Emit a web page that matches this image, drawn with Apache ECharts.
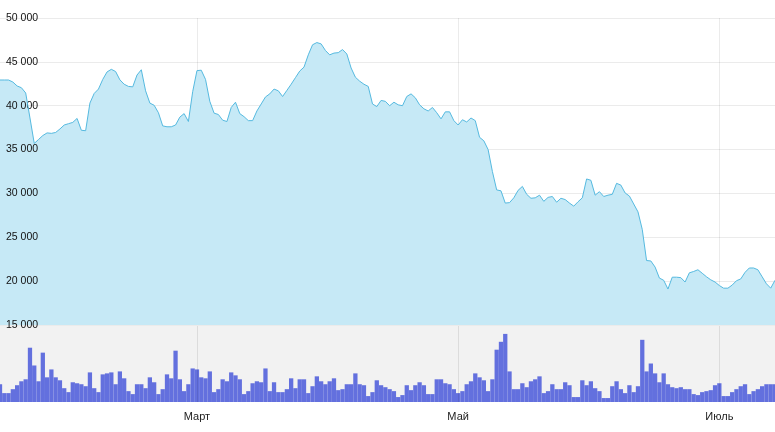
<!DOCTYPE html>
<html>
<head>
<meta charset="utf-8">
<script src="https://cdn.jsdelivr.net/npm/echarts@6/dist/echarts.min.js"></script>
<style>
html,body{margin:0;padding:0;background:#fff;}
#chart{width:775px;height:432px;}
</style>
</head>
<body>
<div id="chart"></div>
<script>
// first day of the series and number of days
const startDate = '2019-01-14';
const dayCount = 182;
// month tick positions and their labels
const tickDates = ['2019-03-01', '2019-05-01', '2019-07-01'];
const tickLabels = ['Март', 'Май', 'Июль'];
// y-axis tick values
const priceTicks = [15000, 20000, 25000, 30000, 35000, 40000, 45000, 50000];

// daily price
const price = [42930,42930,42930,42700,42250,42050,41450,38600,35700,36150,
 36600,36900,36850,36950,37350,37800,37950,38100,38550,37200,
 37150,40300,41400,41900,43000,43850,44150,43900,42950,42450,
 42200,42150,43500,44100,41700,40300,40050,39200,37700,37600,
 37600,37800,38700,39100,38200,41600,44000,44050,43000,40500,
 39150,39000,38350,38200,39800,40400,39100,38750,38300,38300,
 39400,40200,41000,41350,41900,41700,41050,41750,42450,43200,
 43950,44400,45800,46950,47200,47050,46300,45800,46000,46050,
 46400,45900,44300,43250,42800,42450,42200,40200,39900,40600,
 40500,40000,40400,40100,40000,41050,41350,40900,40100,39650,
 39400,39800,39200,38500,39300,39300,38300,37800,38400,38150,
 38600,38300,36400,36000,35000,32500,30400,30300,28900,28950,
 29500,30350,30800,29900,29450,29500,29800,29100,29550,29650,
 29000,29450,29300,28900,28550,29050,29500,31650,31500,29800,
 30200,29650,29800,29900,31150,30950,30050,29700,28800,27900,
 25900,22350,22300,21600,20350,20100,19100,20450,20450,20400,
 19900,20950,21100,21300,20900,20500,20150,19900,19500,19200,
 19200,19550,20050,20250,21000,21500,21500,21300,20500,19700,
 19200,20100];

// daily volume (relative units)
const volume = [18,9,9,13,17,21,23,55,37,21,
 50,25,33,25,22,14,10,20,19,18,
 16,30,14,10,28,29,30,18,31,24,
 11,8,18,18,14,25,20,8,13,28,
 24,52,23,11,18,34,33,25,24,31,
 10,13,23,21,30,27,23,8,11,19,
 21,20,34,11,20,10,10,13,24,14,
 23,23,9,16,26,21,18,21,24,12,
 13,18,18,29,18,17,6,10,22,17,
 15,13,11,5,7,17,12,17,20,17,
 8,8,23,23,19,18,13,9,11,18,
 21,29,25,22,11,23,53,61,69,31,
 13,13,19,15,21,23,26,9,11,18,
 13,13,20,17,5,5,22,17,21,14,
 11,4,4,16,21,13,9,17,10,16,
 63,31,39,29,20,29,18,15,14,15,
 13,13,8,7,10,11,12,17,19,6,
 6,10,13,16,18,8,11,13,16,18,
 18,18];

const dates = [];
{
  const t0 = Date.parse(startDate + 'T00:00:00Z');
  for (let i = 0; i < dayCount; i++) {
    dates.push(new Date(t0 + i * 86400000).toISOString().slice(0, 10));
  }
}
const isTick = (idx, val) => tickDates.indexOf(dates[idx]) >= 0;
const fmtNum = v => String(v).replace(/\B(?=(\d{3})+(?!\d))/g, ' ');

const chart = echarts.init(document.getElementById('chart'), null, {renderer: 'canvas'});
chart.setOption({
  animation: false,
  backgroundColor: '#ffffff',
  grid: [
    {left: 0, right: 0, top: 18, height: 307},
    {left: 0, right: 0, top: 326, height: 76, show: true, backgroundColor: '#f2f2f2', borderWidth: 0}
  ],
  xAxis: [
    {
      type: 'category', gridIndex: 0, data: dates, boundaryGap: false, z: 3,
      axisLine: {show: false}, axisTick: {show: false}, axisLabel: {show: false},
      splitLine: {show: true, interval: isTick, lineStyle: {color: 'rgba(0,0,0,0.08)', width: 1}}
    },
    {
      type: 'category', gridIndex: 1, data: dates, boundaryGap: false, z: 3,
      axisLine: {show: false}, axisTick: {show: false},
      axisLabel: {
        interval: isTick, margin: 9, color: '#222', fontSize: 11,
        fontFamily: 'Liberation Sans, Arial, sans-serif',
        formatter: v => { const k = tickDates.indexOf(v); return k >= 0 ? tickLabels[k] : ''; }
      },
      splitLine: {show: true, interval: isTick, lineStyle: {color: 'rgba(0,0,0,0.09)', width: 1}}
    }
  ],
  yAxis: [
    {
      type: 'value', gridIndex: 0, min: priceTicks[0], max: priceTicks[priceTicks.length - 1], interval: 5000, z: 3,
      axisLine: {show: false}, axisTick: {show: false},
      axisLabel: {
        inside: true, margin: 6, color: '#111', fontSize: 10.5,
        fontFamily: 'Liberation Sans, Arial, sans-serif', formatter: fmtNum
      },
      splitLine: {show: true, lineStyle: {color: 'rgba(0,0,0,0.08)', width: 1}}
    },
    {type: 'value', gridIndex: 1, min: 0, max: 77, show: false, splitLine: {show: false}}
  ],
  series: [
    {
      type: 'line', xAxisIndex: 0, yAxisIndex: 0, data: price, symbol: 'none',
      lineStyle: {color: '#55b9df', width: 1},
      areaStyle: {color: '#c6e9f6', opacity: 1}
    },
    {
      type: 'bar', xAxisIndex: 1, yAxisIndex: 1, data: volume,
      barWidth: '100%', barCategoryGap: 0,
      itemStyle: {color: '#6370de'}
    }
  ]
});
</script>
</body>
</html>
